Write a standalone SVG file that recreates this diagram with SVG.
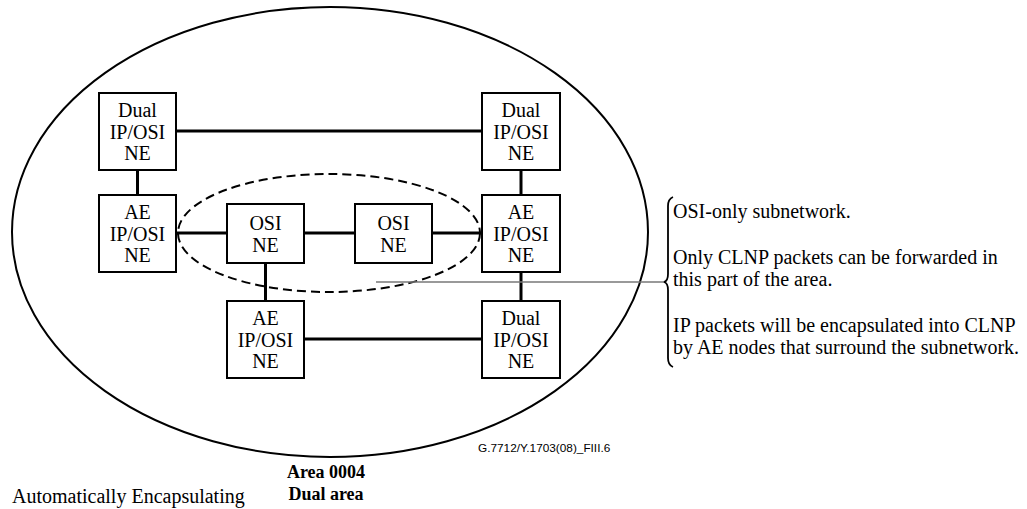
<svg xmlns="http://www.w3.org/2000/svg" width="1027" height="509" viewBox="0 0 1027 509">
<style>
.box{fill:#fff;stroke:#000;stroke-width:2}
.t{font-family:"Liberation Serif","Times New Roman",serif;font-size:20px;fill:#000}
.c{text-anchor:middle}
.b{font-weight:bold;font-size:18px}
.link{stroke:#000;stroke-width:3;fill:none}
</style>
<rect width="1027" height="509" fill="#fff"/>
<g id="area">
<ellipse cx="330" cy="232" rx="318" ry="225" fill="none" stroke="#000" stroke-width="2"/>
</g>
<g id="subnet">
<ellipse cx="329" cy="233" rx="151" ry="59" fill="none" stroke="#000" stroke-width="2" stroke-dasharray="9,5"/>
</g>
<g id="connectors">
<line class="link" x1="176" y1="131" x2="482" y2="131"/>
<line class="link" x1="137.5" y1="170" x2="137.5" y2="195"/>
<line class="link" x1="521" y1="170" x2="521" y2="195"/>
<line class="link" x1="176" y1="233" x2="227" y2="233"/>
<line class="link" x1="304" y1="233" x2="355" y2="233"/>
<line class="link" x1="432" y1="233" x2="482" y2="233"/>
<line class="link" x1="265.5" y1="263" x2="265.5" y2="301"/>
<line class="link" x1="521" y1="272" x2="521" y2="301"/>
<line class="link" x1="304" y1="339" x2="482" y2="339"/>
<line x1="376" y1="282" x2="664" y2="282" stroke="#777" stroke-width="1.5"/>
</g>
<g id="n1"><rect class="box" x="99" y="93" width="77" height="77"/>
<text class="t c" x="137.5" y="117">Dual</text><text class="t c" x="137.5" y="138.5">IP/OSI</text><text class="t c" x="137.5" y="160">NE</text></g>
<g id="n2"><rect class="box" x="482" y="93" width="78" height="77"/>
<text class="t c" x="521" y="117">Dual</text><text class="t c" x="521" y="138.5">IP/OSI</text><text class="t c" x="521" y="160">NE</text></g>
<g id="n3"><rect class="box" x="99" y="195" width="77" height="77"/>
<text class="t c" x="137.5" y="219">AE</text><text class="t c" x="137.5" y="240.5">IP/OSI</text><text class="t c" x="137.5" y="262">NE</text></g>
<g id="n4"><rect class="box" x="482" y="195" width="78" height="77"/>
<text class="t c" x="521" y="219">AE</text><text class="t c" x="521" y="240.5">IP/OSI</text><text class="t c" x="521" y="262">NE</text></g>
<g id="n5"><rect class="box" x="227" y="204" width="77" height="59"/>
<text class="t c" x="265.5" y="230">OSI</text><text class="t c" x="265.5" y="252">NE</text></g>
<g id="n6"><rect class="box" x="355" y="204" width="77" height="59"/>
<text class="t c" x="393.5" y="230">OSI</text><text class="t c" x="393.5" y="252">NE</text></g>
<g id="n7"><rect class="box" x="227" y="301" width="77" height="77"/>
<text class="t c" x="265.5" y="325">AE</text><text class="t c" x="265.5" y="346.5">IP/OSI</text><text class="t c" x="265.5" y="368">NE</text></g>
<g id="n8"><rect class="box" x="482" y="301" width="78" height="77"/>
<text class="t c" x="521" y="325">Dual</text><text class="t c" x="521" y="346.5">IP/OSI</text><text class="t c" x="521" y="368">NE</text></g>
<g id="note">
<path d="M673,197 Q668,199 668,206 L668,274 Q668,281 664,282 Q668,283 668,290 L668,358 Q668,365 673,367" fill="none" stroke="#000" stroke-width="1.8"/>
<text class="t" x="673" y="218">OSI-only subnetwork.</text>
<text class="t" x="673" y="264">Only CLNP packets can be forwarded in</text>
<text class="t" x="673" y="286">this part of the area.</text>
<text class="t" x="673" y="332">IP packets will be encapsulated into CLNP</text>
<text class="t" x="673" y="354">by AE nodes that surround the subnetwork.</text>
</g>
<g id="labels">
<text x="478" y="452" font-family="Liberation Sans, Arial, sans-serif" font-size="11.8">G.7712/Y.1703(08)_FIII.6</text>
<text class="t c b" x="326" y="478">Area 0004</text>
<text class="t c b" x="326" y="500">Dual area</text>
<text class="t" x="12" y="503">Automatically Encapsulating</text>
</g>
</svg>
